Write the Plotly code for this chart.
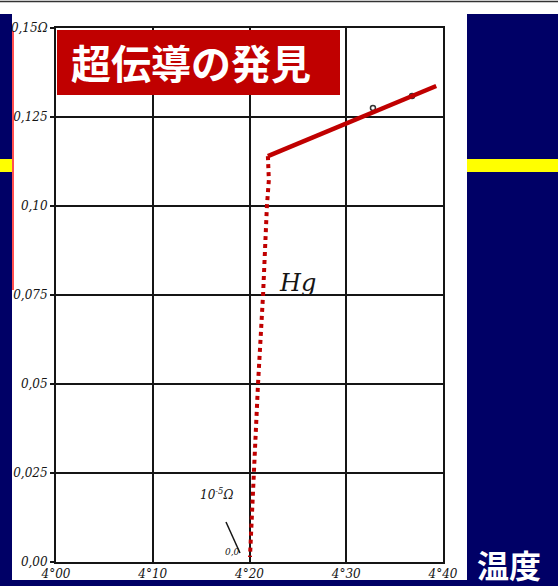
import plotly.graph_objects as go

# ---- data ----
solid_T = [4.219, 4.393]
solid_R = [0.1140, 0.1337]

dotted_T = [4.219, 4.220, 4.218, 4.214, 4.2088, 4.2047, 4.2005]
dotted_R = [0.1140, 0.1073, 0.1000, 0.0750, 0.0500, 0.0250, 0.0014]

scan_T = [4.3276, 4.368]
scan_R = [0.1275, 0.1309]

x_tickvals = [4.00, 4.10, 4.20, 4.30, 4.40]
x_ticktext = ["4°00", "4°10", "4°20", "4°30", "4°40"]
y_tickvals = [0.0, 0.025, 0.05, 0.075, 0.10, 0.125, 0.15]
y_ticktext = ["0,00", "0,025", "0,05", "0,075", "0,10", "0,125", "0,15Ω"]

title_text = "超伝導の発見"
corner_text = "温度"
hg_label = "Hg"
unit_label = "10<sup>-5</sup>Ω"
zero_label = "0,0"

# ---- layout helpers (pixel -> paper) ----
W, H = 558, 586
L, R, T, B = 56, 115, 28, 24
PW, PH = W - L - R, H - T - B


def px(x):
    return (x - L) / PW


def py(y):
    return (H - B - y) / PH


NAVY = "#000066"
RED = "#C00000"
INK = "#151515"

fig = go.Figure()

fig.add_trace(go.Scatter(
    x=scan_T, y=scan_R, mode="markers",
    marker=dict(size=5, color="#333", symbol="circle-open", line=dict(width=1.5, color="#333")),
    hoverinfo="skip"))
fig.add_trace(go.Scatter(
    x=dotted_T, y=dotted_R, mode="lines",
    line=dict(color=RED, width=4, dash="dot"), hoverinfo="skip"))
fig.add_trace(go.Scatter(
    x=solid_T, y=solid_R, mode="lines",
    line=dict(color=RED, width=4.5), hoverinfo="skip"))

shapes = [
    # white scan area
    dict(type="rect", xref="paper", yref="paper", x0=px(12), x1=px(467), y0=py(580), y1=py(14),
         fillcolor="white", line=dict(width=0), layer="below"),
    # top white band
    dict(type="rect", xref="paper", yref="paper", x0=px(0), x1=px(W), y0=py(14), y1=py(0),
         fillcolor="white", line=dict(width=0), layer="below"),
    # top thin rule
    dict(type="line", xref="paper", yref="paper", x0=px(0), x1=px(W), y0=py(1.5), y1=py(1.5),
         line=dict(color="#333", width=1.5), layer="below"),
    # yellow stripes
    dict(type="rect", xref="paper", yref="paper", x0=px(0), x1=px(12), y0=py(172), y1=py(159),
         fillcolor="#FFFF00", line=dict(width=0), layer="below"),
    dict(type="rect", xref="paper", yref="paper", x0=px(467), x1=px(W), y0=py(172), y1=py(159),
         fillcolor="#FFFF00", line=dict(width=0), layer="below"),
    # thin red edge at left
    dict(type="line", xref="paper", yref="paper", x0=px(13), x1=px(13), y0=py(290), y1=py(31),
         line=dict(color="#ff5050", width=2), layer="below"),
    # title box
    dict(type="rect", xref="paper", yref="paper", x0=px(57), x1=px(340), y0=py(95), y1=py(30),
         fillcolor=RED, line=dict(width=0), layer="above"),
    # pointer stroke for 10^-5 ohm
    dict(type="line", xref="paper", yref="paper", x0=px(226), x1=px(240), y0=py(522), y1=py(553),
         line=dict(color=INK, width=1.5), layer="above"),
]

annotations = [
    dict(text="<b>" + title_text + "</b>", xref="paper", yref="paper", x=px(69), y=py(62),
         xanchor="left", yanchor="middle", showarrow=False,
         font=dict(family="Noto Sans CJK JP", size=40, color="white")),
    dict(text="<b>" + corner_text + "</b>", xref="paper", yref="paper", x=px(509), y=py(564),
         xanchor="center", yanchor="middle", showarrow=False, borderpad=0,
         font=dict(family="Noto Sans CJK JP", size=32, color="white")),
    dict(text=hg_label, xref="x", yref="y", x=4.25, y=0.0784, showarrow=False,
         font=dict(family="DejaVu Serif", size=24, color=INK, style="italic")),
    dict(text=unit_label, xref="paper", yref="paper", x=px(216), y=py(504), showarrow=False,
         font=dict(family="DejaVu Serif", size=12, color=INK, style="italic")),
    dict(text=zero_label, xref="paper", yref="paper", x=px(232), y=py(559), showarrow=False,
         font=dict(family="DejaVu Serif", size=9, color=INK, style="italic")),
]

tick_font = dict(family="DejaVu Serif", size=12, color=INK, style="italic")

fig.update_layout(
    width=W, height=H,
    paper_bgcolor=NAVY, plot_bgcolor="white",
    margin=dict(l=L, r=R, t=T, b=B, pad=0),
    showlegend=False,
    shapes=shapes, annotations=annotations,
    xaxis=dict(range=[4.0, 4.4], tickvals=x_tickvals, ticktext=x_ticktext,
               showgrid=True, gridcolor=INK, gridwidth=2, zeroline=False,
               showline=True, mirror=True, linecolor=INK, linewidth=2,
               ticks="", automargin=False, tickfont=tick_font),
    yaxis=dict(range=[0, 0.15], tickvals=y_tickvals, ticktext=y_ticktext,
               showgrid=True, gridcolor=INK, gridwidth=2, zeroline=False,
               showline=True, mirror=True, linecolor=INK, linewidth=2,
               ticks="outside", ticklen=4, tickwidth=1.5, tickcolor=INK, automargin=False,
               tickfont=tick_font),
)

fig.write_html("out.html")
